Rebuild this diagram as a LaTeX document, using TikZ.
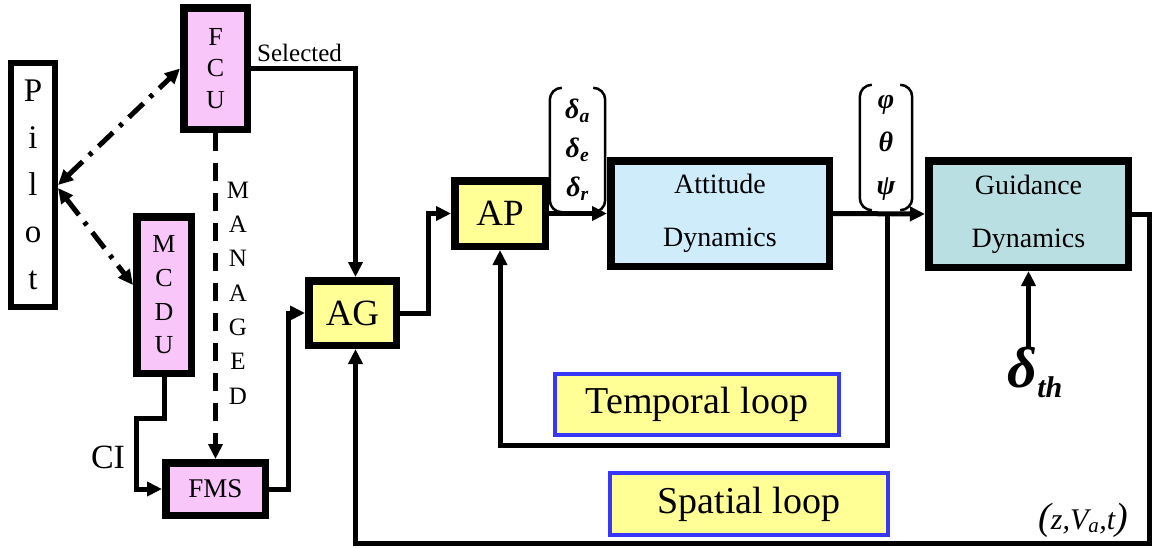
\documentclass[tikz,border=0pt]{standalone}
\usepackage{fontspec}
\setmainfont{Liberation Serif}
\usetikzlibrary{arrows.meta}
\definecolor{fcupink}{RGB}{248,198,248}
\definecolor{agyellow}{RGB}{255,255,150}
\definecolor{attblue}{RGB}{206,236,250}
\definecolor{guiteal}{RGB}{186,223,226}
\definecolor{loopblue}{RGB}{55,55,250}
\begin{document}
\begin{tikzpicture}[x=1pt,y=-1pt,
  >={Triangle[length=15pt,width=14pt]},
  blk/.style={draw,line width=7.5pt,inner sep=0pt,align=center},
  wire/.style={line width=5pt},
  pilotlink/.style={line width=5pt,dash pattern=on 20pt off 9pt on 4pt off 9pt},
  looplabel/.style={draw=loopblue,line width=4pt,fill=agyellow,inner sep=0pt,font=\fontsize{38}{38}\selectfont},
  vecfont/.style={align=center,inner sep=0pt,font=\fontsize{28}{#1}\bfseries\itshape\selectfont},
  paren/.style={line width=2.5pt,rounded corners=12pt}]
\useasboundingbox (0,0) rectangle (1156,547);

\node[blk,line width=6pt,fill=white,minimum width=44,minimum height=244,font=\fontsize{33}{47}\selectfont] (pilot) at (33,185) {P\\i\\l\\o\\t};
\node[blk,fill=fcupink,minimum width=63.5,minimum height=121.5,font=\fontsize{26}{31.5}\selectfont] (fcu) at (215.5,68.5) {F\\C\\U};
\node[blk,fill=fcupink,minimum width=54.5,minimum height=156.5,font=\fontsize{26}{33.7}\selectfont] (mcdu) at (164,295) {M\\C\\D\\U};
\node[blk,fill=fcupink,minimum width=99.5,minimum height=52.5,font=\fontsize{27}{27}\selectfont] (fms) at (215.5,489) {FMS};
\node[blk,fill=agyellow,minimum width=87.5,minimum height=64.5,font=\fontsize{37}{37}\selectfont] (ag) at (352.5,313) {AG};
\node[blk,fill=agyellow,minimum width=90.5,minimum height=65.5,font=\fontsize{37}{37}\selectfont] (ap) at (500,213.5) {AP};
\node[blk,fill=attblue,minimum width=218.5,minimum height=105.5,font=\fontsize{28}{53}\selectfont] (att) at (720,213.5) {Attitude\\Dynamics};
\node[blk,fill=guiteal,minimum width=199.5,minimum height=106.5,font=\fontsize{28}{53}\selectfont] (gui) at (1028.5,214) {Guidance\\Dynamics};
\node[looplabel,minimum width=284,minimum height=61] (temporal) at (697,404.5) {Temporal loop};
\node[looplabel,minimum width=278,minimum height=62] (spatial) at (749,504) {Spatial loop};

\node[anchor=south west,inner sep=0pt,font=\fontsize{25}{25}\selectfont] (sel) at (257,62) {Selected};
\node[align=center,inner sep=0pt,font=\fontsize{25}{34.3}\selectfont] (mng) at (238,293) {M\\A\\N\\A\\G\\E\\D};
\node[inner sep=0pt,font=\fontsize{34}{34}\selectfont] (ci) at (108,457) {CI};
\node[vecfont=39,minimum width=55,minimum height=124] (dvec) at (577.5,150) {δ\textsubscript{a}\\δ\textsubscript{e}\\δ\textsubscript{r}};
\node[vecfont=43,minimum width=52,minimum height=125] (phivec) at (886,147.5) {φ\\θ\\ψ};
\node[anchor=north,inner sep=0pt,font=\bfseries\itshape] (dth) at (1035,347) {{\fontsize{58}{58}\selectfont δ}\raisebox{-10pt}{\fontsize{30}{30}\selectfont th}};
\node[inner sep=0pt,font=\fontsize{30}{30}\itshape\selectfont] (zva) at (1083,520) {{\fontsize{38}{38}\selectfont(}z,V\textsubscript{a},t{\fontsize{38}{38}\selectfont)}};

\draw[paren] ([xshift=12]dvec.north west) -| (dvec.south west) -- ([xshift=12]dvec.south west);
\draw[paren] ([xshift=-12]dvec.north east) -| (dvec.south east) -- ([xshift=-12]dvec.south east);
\draw[paren] ([xshift=12]phivec.north west) -| (phivec.south west) -- ([xshift=12]phivec.south west);
\draw[paren] ([xshift=-12]phivec.north east) -| (phivec.south east) -- ([xshift=-12]phivec.south east);

\draw[pilotlink,<->] (pilot.east) -- (fcu.west);
\draw[pilotlink,<->] ([yshift=-3]pilot.east) -- ([yshift=10]mcdu.west);
\draw[wire,->,dash pattern=on 18pt off 12pt] (fcu.south) -- (fms.north);
\draw[wire,->] (fcu.east) -| ([xshift=3]ag.north);
\draw[wire,->] (mcdu.south) |- (136,418) |- (fms.west);
\draw[wire,->] (fms.east) -- ++(19,0) |- (ag.west);
\draw[wire,->] (ag.east) -- ++(28,0) |- (ap.west);
\draw[wire,->] (ap.east) -- (att.west);
\draw[wire,->] (att.east) -- (gui.west);
\coordinate (tap) at (887,213.5);
\draw[wire,->] (tap) -- ++(0,231.5) -| (ap.south);
\draw[wire,->] (gui.east) -- ++(17,0) -- ++(0,329) -| ([xshift=3]ag.south);
\draw[wire,->] (gui.south |- dth.north) -- (gui.south);

\end{tikzpicture}
\end{document}
